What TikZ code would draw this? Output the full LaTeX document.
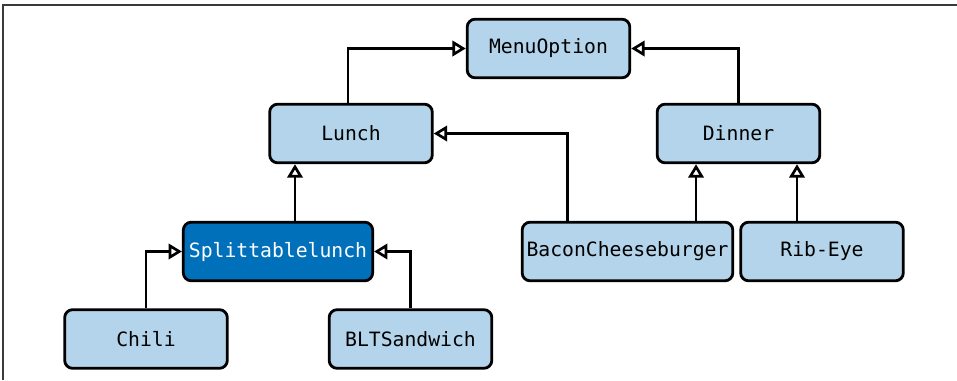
\documentclass[tikz,border=0pt]{standalone}
\usepackage{fontspec}
\setmonofont{DejaVu Sans Mono}
\usetikzlibrary{arrows.meta}
\definecolor{boxlight}{HTML}{B3D4EA}
\definecolor{boxdark}{HTML}{0070BA}
\definecolor{framegray}{HTML}{3A3A3A}
\begin{document}
\begin{tikzpicture}[x=0.75pt,y=-0.75pt,
  cls/.style={draw=black, line width=2.1pt, rounded corners=6pt, fill=boxlight,
    font=\ttfamily\fontsize{14.8}{16}\selectfont, inner sep=0pt,
    minimum width=122pt, minimum height=44pt, anchor=center},
  clsdark/.style={cls, fill=boxdark, text=white},
  inh/.style={line width=1.6pt, -{Triangle[fill=white, length=10pt, width=11.5pt, line width=2pt]}}]
\useasboundingbox (0,0) rectangle (957,380);
\draw[framegray, line width=1.5pt] (3,380) -- (3,5) -- (957,5);

\node[cls] (menu) at (548.5,48.5) {MenuOption};
\node[cls] (lunch) at (351,133.5) {Lunch};
\node[cls] (dinner) at (738.5,133.5) {Dinner};
\node[clsdark, minimum width=142pt] (split) at (278,251.5) {Splittablelunch};
\node[cls, minimum width=158pt] (bacon) at (627.5,251.5) {BaconCheeseburger};
\node[cls] (rib) at (822,251.5) {Rib-Eye};
\node[cls] (chili) at (146,339) {Chili};
\node[cls] (blt) at (410.5,339) {BLTSandwich};

\draw[inh] ([xshift=-2.25pt]lunch.north) |- (menu.west);
\draw[inh] (dinner.north) |- (menu.east);
\draw[inh] ([xshift=-45pt]bacon.north) |- (lunch.east);
\draw[inh] ([xshift=51.4pt]bacon.north) -- ([xshift=51.4pt]bacon.north |- dinner.south);
\draw[inh] ([xshift=-18.75pt]rib.north) -- ([xshift=-18.75pt]rib.north |- dinner.south);
\draw[inh] ([xshift=12.75pt]split.north) -- ([xshift=12.75pt]split.north |- lunch.south);
\draw[inh] (chili.north) |- (split.west);
\draw[inh] (blt.north) |- (split.east);
\end{tikzpicture}
\end{document}
